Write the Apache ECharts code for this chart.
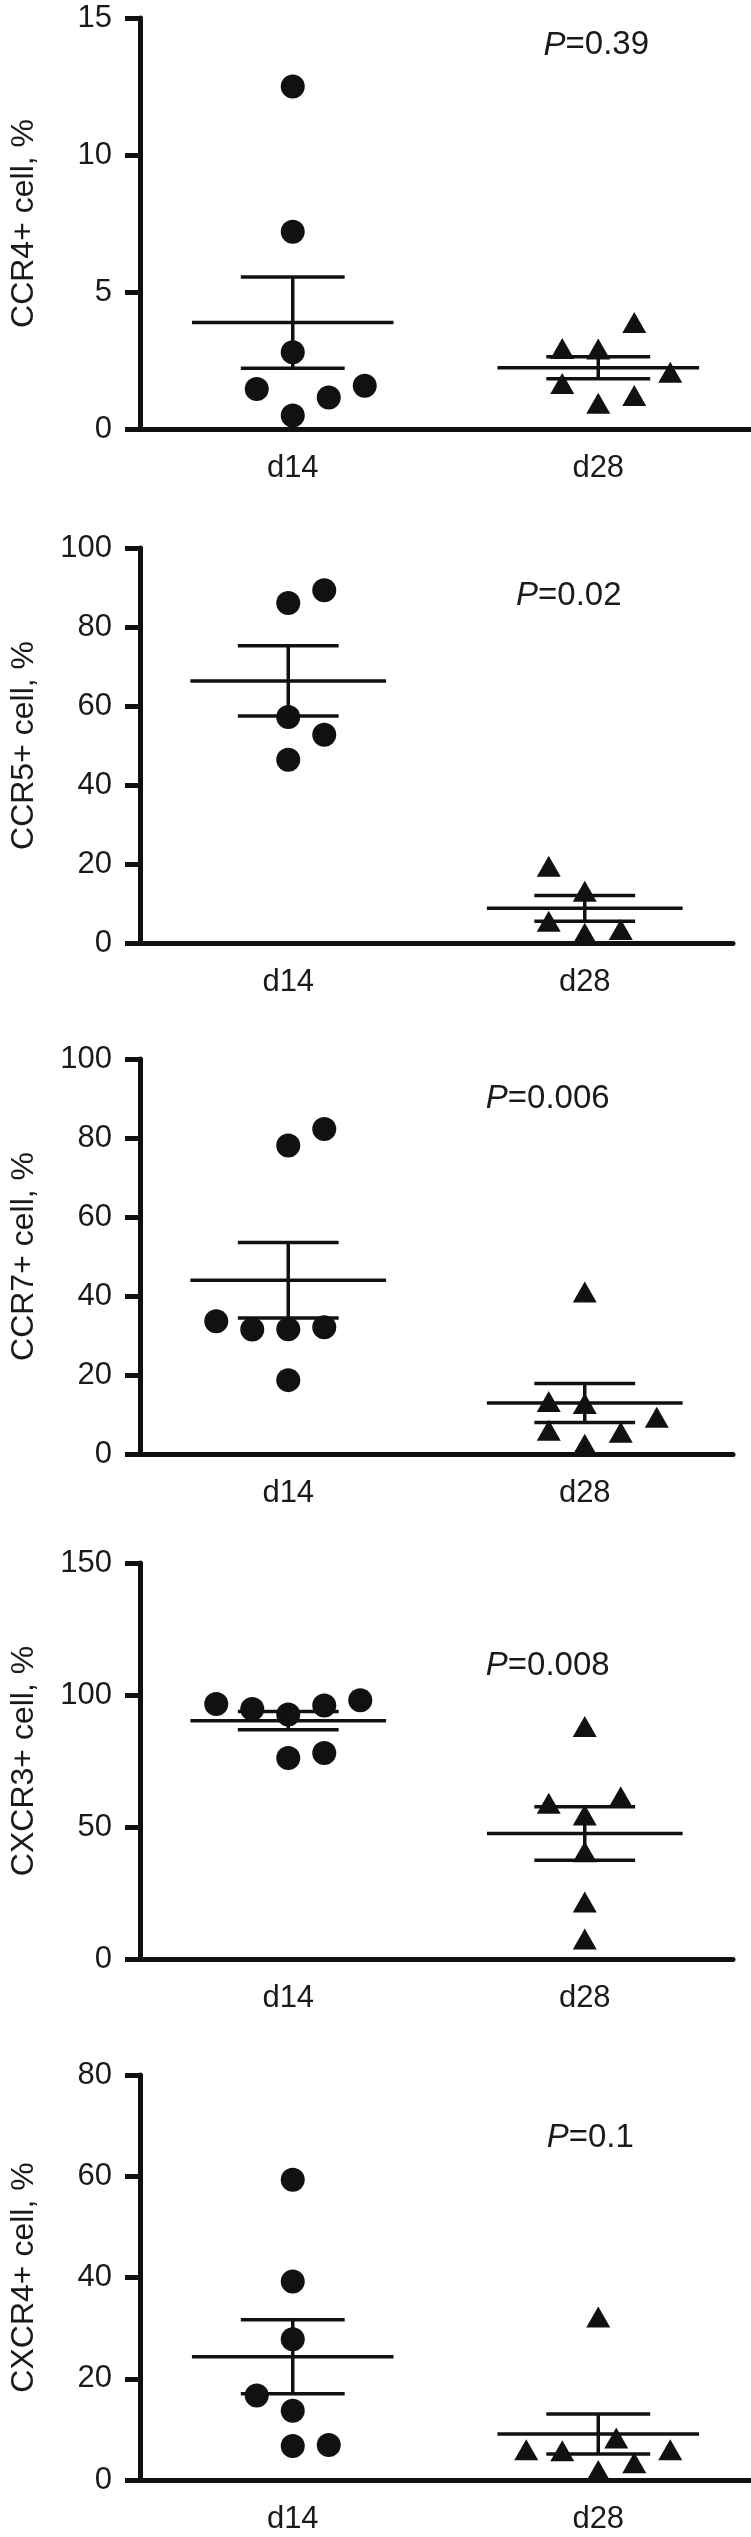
<!DOCTYPE html>
<html>
<head>
<meta charset="utf-8">
<script src="https://cdn.jsdelivr.net/npm/echarts@6/dist/echarts.min.js"></script>
<style>
  html, body { margin: 0; padding: 0; background: #fff; }
  #chart { width: 751px; height: 2537px; }
</style>
</head>
<body>
<div id="chart"></div>
<script>
// categories (x axis)
var categories = ['d14', 'd28'];

// CCR4+ cell, %
var ccr4D14 = [12.5, 7.2, 2.8, 1.46, 1.15, 1.58, 0.49];
var ccr4D28 = [2.94, 2.92, 3.89, 2.07, 1.66, 1.22, 0.94];
// CCR5+ cell, %
var ccr5D14 = [86.1, 89.3, 57.2, 52.7, 46.4];
var ccr5D28 = [19.4, 13.1, 5.5, 2.5, 3.4];
// CCR7+ cell, %
var ccr7D14 = [82.3, 78.1, 33.6, 31.5, 31.6, 32.1, 18.7];
var ccr7D28 = [41.0, 13.3, 12.8, 9.3, 6.0, 5.5, 2.5];
// CXCR3+ cell, %
var cxcr3D14 = [96.6, 94.7, 92.6, 96.0, 98.0, 76.1, 78.0];
var cxcr3D28 = [88.1, 59.0, 61.5, 54.5, 40.6, 21.6, 7.6];
// CXCR4+ cell, %
var cxcr4D14 = [59.3, 39.2, 27.8, 16.7, 13.7, 6.7, 6.9];
var cxcr4D28 = [32.2, 8.3, 6.0, 5.8, 6.0, 3.4, 1.9];

// P values shown in each panel
var pValues = ['0.39', '0.02', '0.006', '0.008', '0.1'];
// y axis tick maxima / steps
var yMax = [15, 100, 100, 150, 80];
var yStep = [5, 20, 20, 50, 20];
var yNames = ['CCR4+ cell, %', 'CCR5+ cell, %', 'CCR7+ cell, %', 'CXCR3+ cell, %', 'CXCR4+ cell, %'];

// column-scatter spread (in symbol slots, GraphPad style)
var ccr4Spread = [[0, 0, 0, -1, 1, 2, 0], [-1, 0, 1, 2, -1, 1, 0]];
var ccr5Spread = [[0, 1, 0, 1, 0], [-1, 0, -1, 0, 1]];
var ccr7Spread = [[1, 0, -2, -1, 0, 1, 0], [0, -1, 0, 2, -1, 1, 0]];
var cxcr3Spread = [[-2, -1, 0, 1, 2, 0, 1], [0, -1, 1, 0, 0, 0, 0]];
var cxcr4Spread = [[0, 0, 0, -1, 0, 0, 1], [0, 0.5, -2, -1, 2, 1, 0]];

var panels = [
  { d14: ccr4D14, d28: ccr4D28, spread: ccr4Spread, top: 18, height: 411, width: 614, pAt: [14.0, -2] },
  { d14: ccr5D14, d28: ccr5D28, spread: ccr5Spread, top: 548, height: 395, width: 596, pAt: [87.8, -16] },
  { d14: ccr7D14, d28: ccr7D28, spread: ccr7Spread, top: 1059, height: 395, width: 596, pAt: [90.0, -37] },
  { d14: cxcr3D14, d28: cxcr3D28, spread: cxcr3Spread, top: 1563, height: 396, width: 596, pAt: [111.2, -37] },
  { d14: cxcr4D14, d28: cxcr4D28, spread: cxcr4Spread, top: 2075, height: 405, width: 614, pAt: [67.5, -8] }
];

var FONT = '"Liberation Sans", Arial, Helvetica, sans-serif';
var INK = '#111';
var TXT = '#1a1a1a';
var SLOT = 36;

function meanSem(arr) {
  var n = arr.length, s = 0, i;
  for (i = 0; i < n; i++) s += arr[i];
  var m = s / n, ss = 0;
  for (i = 0; i < n; i++) ss += (arr[i] - m) * (arr[i] - m);
  var sem = Math.sqrt(ss / (n - 1)) / Math.sqrt(n);
  return [m, m - sem, m + sem];
}

var grids = [], xAxes = [], yAxes = [], series = [];

panels.forEach(function (p, k) {
  grids.push({ left: 137, top: p.top, width: p.width, height: p.height });
  xAxes.push({
    type: 'category', gridIndex: k, data: categories, boundaryGap: true,
    axisLine: { lineStyle: { color: INK, width: 5 } },
    axisTick: { alignWithLabel: true, length: 15, lineStyle: { color: INK, width: 5 } },
    axisLabel: { fontFamily: FONT, fontSize: 31, color: TXT, margin: 24 },
    splitLine: { show: false }
  });
  yAxes.push({
    type: 'value', gridIndex: k, min: 0, max: yMax[k], interval: yStep[k],
    name: yNames[k], nameLocation: 'middle', nameRotate: 90, nameGap: 100,
    nameTextStyle: { fontFamily: FONT, fontSize: 32, color: TXT },
    axisLine: { show: true, lineStyle: { color: INK, width: 5 } },
    axisTick: { show: true, length: 15, lineStyle: { color: INK, width: 5 } },
    axisLabel: { fontFamily: FONT, fontSize: 31, color: TXT, margin: 28 },
    splitLine: { show: false }
  });

  [p.d14, p.d28].forEach(function (vals, c) {
    series.push({
      type: 'scatter', xAxisIndex: k, yAxisIndex: k,
      symbol: c === 0 ? 'circle' : 'triangle',
      symbolSize: c === 0 ? 24 : [24, 21],
      itemStyle: { color: INK, opacity: 1 },
      data: vals.map(function (v, i) {
        return { value: [c, v], symbolOffset: [p.spread[c][i] * SLOT, 0] };
      }),
      z: 3
    });
  });

  series.push({
    type: 'custom', xAxisIndex: k, yAxisIndex: k, z: 4,
    data: [[0].concat(meanSem(p.d14)), [1].concat(meanSem(p.d28))],
    renderItem: function (params, api) {
      var x = api.value(0);
      var cm = api.coord([x, api.value(1)]);
      var cl = api.coord([x, api.value(2)]);
      var ch = api.coord([x, api.value(3)]);
      var bw = api.size([1, 0])[0];
      var st = { stroke: INK, lineWidth: 3.5 };
      var hw = bw * 0.33, cw = bw * 0.17;
      return {
        type: 'group',
        children: [
          { type: 'line', shape: { x1: cm[0] - hw, y1: cm[1], x2: cm[0] + hw, y2: cm[1] }, style: st },
          { type: 'line', shape: { x1: cl[0] - cw, y1: cl[1], x2: cl[0] + cw, y2: cl[1] }, style: st },
          { type: 'line', shape: { x1: ch[0] - cw, y1: ch[1], x2: ch[0] + cw, y2: ch[1] }, style: st },
          { type: 'line', shape: { x1: cl[0], y1: cl[1], x2: ch[0], y2: ch[1] }, style: st }
        ]
      };
    }
  });

  // P value annotation
  series.push({
    type: 'scatter', xAxisIndex: k, yAxisIndex: k, symbolSize: 0,
    silent: true,
    itemStyle: { opacity: 1 },
    data: [[1, p.pAt[0]]],
    label: {
      show: true, position: 'inside', offset: [p.pAt[1], 0],
      formatter: '{i|P}{n|=' + pValues[k] + '}',
      rich: {
        i: { fontFamily: FONT, fontSize: 33, fontStyle: 'italic', color: TXT },
        n: { fontFamily: FONT, fontSize: 33, color: TXT }
      }
    }
  });
});

var chart = echarts.init(document.getElementById('chart'));
chart.setOption({
  animation: false,
  backgroundColor: '#fff',
  grid: grids,
  xAxis: xAxes,
  yAxis: yAxes,
  series: series
});
</script>
</body>
</html>
